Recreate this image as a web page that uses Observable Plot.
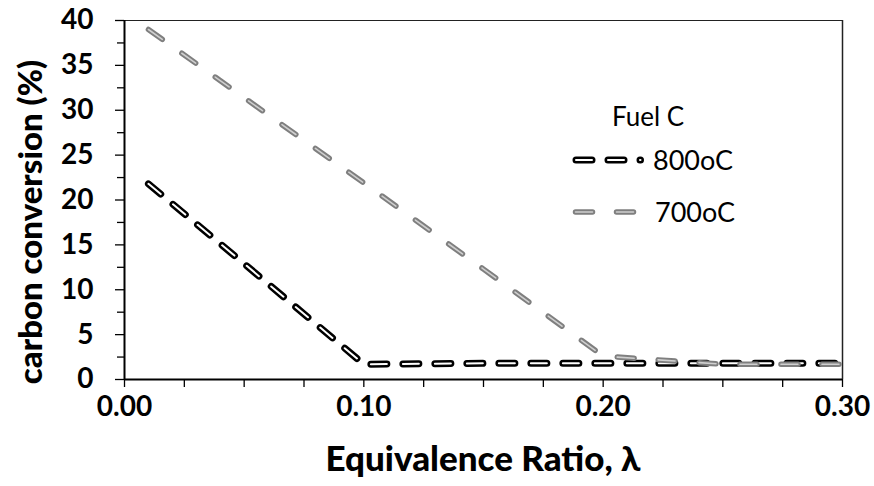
<!DOCTYPE html>
<html>
<head>
<meta charset="utf-8">
<script src="https://cdn.jsdelivr.net/npm/d3@7"></script>
<script src="https://cdn.jsdelivr.net/npm/@observablehq/plot@0.6"></script>
<style>
  html, body { margin: 0; padding: 0; background: #fff; }
  #wrap { position: relative; width: 874px; height: 486px; }
  #wrap svg { position: absolute; left: 0; top: 0; }
  text { font-family: Lato, "Open Sans", sans-serif; }
</style>
</head>
<body>
<div id="wrap"></div>
<script>
// ---- data ----
const lambda = [0.01, 0.05, 0.10, 0.15, 0.20, 0.25, 0.30];
const conv800 = [21.8, 12.9, 1.7, 1.8, 1.8, 1.8, 1.8];
const conv700 = [39.0, 31.4, 21.9, 12.3, 2.6, 1.7, 1.7];
const seriesNames = ["800oC", "700oC"];
const legendTitle = "Fuel C";
const xTicks = [0, 0.1, 0.2, 0.3];
const xMinorTicks = [0.025, 0.05, 0.075, 0.125, 0.15, 0.175, 0.225, 0.25, 0.275];
const yTicks = [0, 5, 10, 15, 20, 25, 30, 35, 40];
const yMinorTicks = [2.5, 7.5, 12.5, 17.5, 22.5, 27.5, 32.5, 37.5];
const xTitle = "Equivalence Ratio, λ";
const yTitle = "carbon conversion (%)";

const d800 = lambda.map((x, i) => ({x, y: conv800[i]}));
const d700 = lambda.map((x, i) => ({x, y: conv700[i]}));

const font = "Lato, 'Open Sans', sans-serif";

const chart = Plot.plot({
  width: 874,
  height: 486,
  marginLeft: 124,
  marginRight: 32,
  marginTop: 20,
  marginBottom: 107,
  style: {fontFamily: font, background: "transparent", overflow: "visible"},
  x: {domain: [0, 0.3]},
  y: {domain: [0, 40]},
  marks: [
    // plot area border (top / right)
    Plot.ruleY([40], {stroke: "#222", strokeWidth: 1.2}),
    Plot.ruleX([0.3], {stroke: "#222", strokeWidth: 1.5}),
    // axes
    Plot.axisY({ticks: yMinorTicks, tickSize: 7, tickFormat: () => "", stroke: "#000", strokeWidth: 1.3, label: null}),
    Plot.axisY({ticks: yTicks, tickSize: 9, tickPadding: 22, tickFormat: d => d3.format("d")(d),
      stroke: "#000", strokeWidth: 1.3, fontSize: 28, fill: "#000", label: null}),
    Plot.axisX({ticks: xMinorTicks, tickSize: 8, tickFormat: () => "", stroke: "#000", strokeWidth: 1.3, label: null}),
    Plot.axisX({ticks: xTicks, tickSize: 8, tickPadding: 9, tickFormat: d => d3.format(".2f")(d),
      stroke: "#000", strokeWidth: 1.3, fontSize: 28, fill: "#000", label: null}),
    Plot.ruleX([0], {stroke: "#000", strokeWidth: 2}),
    Plot.ruleY([0], {stroke: "#000", strokeWidth: 2}),
    // 800oC : black outlined dashes with white core
    Plot.line(d800, {x: "x", y: "y", stroke: "#000", strokeWidth: 7, strokeDasharray: "16,16", strokeLinecap: "round", strokeLinejoin: "round"}),
    Plot.line(d800, {x: "x", y: "y", stroke: "#fff", strokeWidth: 2, strokeDasharray: "16,16", strokeLinecap: "round", strokeLinejoin: "round"}),
    // 700oC : grey outlined dashes with light core
    Plot.line(d700, {x: "x", y: "y", stroke: "#7f7f7f", strokeWidth: 5.5, strokeDasharray: "17,24", strokeLinecap: "round", strokeLinejoin: "round"}),
    Plot.line(d700, {x: "x", y: "y", stroke: "#cfcfcf", strokeWidth: 1.6, strokeDasharray: "17,24", strokeLinecap: "round", strokeLinejoin: "round"})
  ]
});
document.getElementById("wrap").appendChild(chart);

// make all tick labels bold like the reference (inline style wins over everything)
d3.select(chart).selectAll("text")
  .style("font-weight", "700").style("font-size", "28px").style("fill", "#000")
  .style("font-family", font);

// ---- titles & legend overlay ----
const ns = "http://www.w3.org/2000/svg";
const ov = d3.select("#wrap").append("svg")
  .attr("xmlns", ns).attr("width", 874).attr("height", 486)
  .style("pointer-events", "none");

ov.append("text").attr("x", 483).attr("y", 471).attr("text-anchor", "middle")
  .attr("font-size", 35).attr("font-weight", 900).attr("fill", "#000").text(xTitle);
ov.append("text").attr("transform", "translate(42,222) rotate(-90)").attr("text-anchor", "middle")
  .attr("font-size", 33).attr("font-weight", 900).attr("fill", "#000").text(yTitle);

ov.append("text").attr("x", 648).attr("y", 126).attr("text-anchor", "middle")
  .attr("font-size", 26).attr("fill", "#000").text(legendTitle);

// 800oC sample
const ly1 = 160, ly2 = 212;
ov.append("line").attr("x1", 576).attr("x2", 640.5).attr("y1", ly1).attr("y2", ly1)
  .attr("stroke", "#000").attr("stroke-width", 7).attr("stroke-dasharray", "16,16").attr("stroke-linecap", "round");
ov.append("line").attr("x1", 576).attr("x2", 640.5).attr("y1", ly1).attr("y2", ly1)
  .attr("stroke", "#fff").attr("stroke-width", 2).attr("stroke-dasharray", "16,16").attr("stroke-linecap", "round");
ov.append("text").attr("x", 653).attr("y", ly1 + 9.5).attr("font-size", 27).attr("fill", "#000").text(seriesNames[0]);
// 700oC sample
ov.append("line").attr("x1", 575.5).attr("x2", 634.5).attr("y1", ly2).attr("y2", ly2)
  .attr("stroke", "#7f7f7f").attr("stroke-width", 5.5).attr("stroke-dasharray", "17,24").attr("stroke-linecap", "round");
ov.append("line").attr("x1", 575.5).attr("x2", 634.5).attr("y1", ly2).attr("y2", ly2)
  .attr("stroke", "#cfcfcf").attr("stroke-width", 1.6).attr("stroke-dasharray", "17,24").attr("stroke-linecap", "round");
ov.append("text").attr("x", 655).attr("y", ly2 + 9.5).attr("font-size", 27).attr("fill", "#000").text(seriesNames[1]);
</script>
</body>
</html>
